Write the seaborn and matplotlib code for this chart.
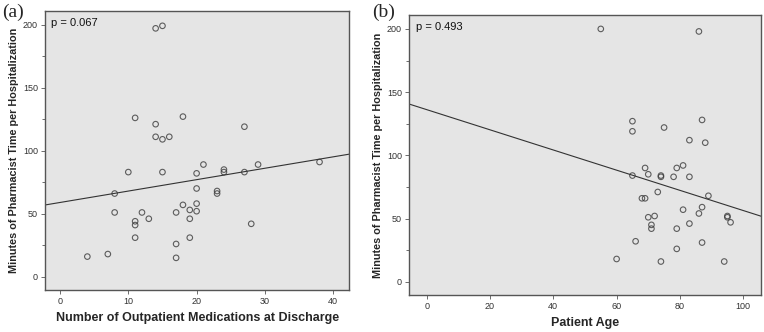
import numpy as np
import pandas as pd
import matplotlib
matplotlib.use("Agg")
import matplotlib.pyplot as plt
import seaborn as sns

# Panel (a): number of outpatient medications at discharge vs minutes
meds = [4, 7, 8, 8, 10, 11, 11, 11, 11, 12, 13, 14, 14, 14, 15, 15, 15, 16, 17, 17,
        17, 18, 18, 19, 19, 19, 20, 20, 20, 20, 21, 23, 23, 24, 24, 27, 27, 28, 29, 38]
minutes_a = [16, 18, 66, 51, 83, 126, 44, 41, 31, 51, 46, 197, 121, 111, 199, 109, 83, 111, 51, 26,
             15, 127, 57, 53, 46, 31, 82, 70, 58, 52, 89, 68, 66, 85, 83, 119, 83, 42, 89, 91]

# Panel (b): patient age vs minutes
age = [55, 86, 65, 65, 75, 87, 83, 88, 69, 70, 65, 74, 74, 79, 81, 78, 83, 89, 73, 68,
       69, 81, 87, 86, 95, 95, 72, 70, 96, 83, 71, 71, 79, 66, 87, 79, 60, 74, 94]
minutes_b = [200, 198, 127, 119, 122, 128, 112, 110, 90, 85, 84, 84, 83, 90, 92, 83, 83, 68, 71, 66,
             66, 57, 59, 54, 52, 51, 52, 51, 47, 46, 45, 42, 42, 32, 31, 26, 18, 16, 16]

p_labels = ["p = 0.067", "p = 0.493"]
panel_labels = ["(a)", "(b)"]
x_labels = ["Number of Outpatient Medications at Discharge", "Patient Age"]
y_label = "Minutes of Pharmacist Time per Hospitalization"
x_ticks = [[0, 10, 20, 30, 40], [0, 20, 40, 60, 80, 100]]
y_ticks = [0, 50, 100, 150, 200]

sns.set_theme(style="white")
plt.rcParams["font.family"] = ["Liberation Sans", "DejaVu Sans"]

df_a = pd.DataFrame({"x": meds, "y": minutes_a})
df_b = pd.DataFrame({"x": age, "y": minutes_b})

fig = plt.figure(figsize=(7.64, 3.32), dpi=100)
ax_a = fig.add_axes([0.0589, 0.1265, 0.3983, 0.8413])
ax_b = fig.add_axes([0.5353, 0.1114, 0.4607, 0.8434])

bg = "#E5E5E5"
edge = "#555555"
xlims = [(-2.2, 42.36), (-5.6, 105.6)]

for i, (ax, df) in enumerate([(ax_a, df_a), (ax_b, df_b)]):
    ax.set_facecolor(bg)
    ax.set_xlim(*xlims[i])
    ax.set_ylim(-10.5, 211)
    sns.regplot(data=df, x="x", y="y", ax=ax, ci=None, truncate=False,
                scatter_kws=dict(s=16, facecolors="none", edgecolors="#3a3a3a", linewidths=0.8),
                line_kws=dict(color="#333333", lw=0.8))
    ax.set_xlim(*xlims[i])
    ax.set_ylim(-10.5, 211)
    ax.set_xticks(x_ticks[i])
    ax.set_yticks(y_ticks)
    ax.set_yticks([25, 75, 125, 175], minor=True)
    ax.tick_params(axis="both", which="major", direction="out", length=3, width=0.6,
                   color=edge, labelsize=6.5, labelcolor="#333333", pad=2,
                   bottom=True, left=True)
    ax.tick_params(axis="y", which="minor", direction="out", length=2, width=0.6,
                   color=edge, left=True)
    for s in ax.spines.values():
        s.set_color(edge)
        s.set_linewidth(1.0)
    ax.set_xlabel(x_labels[i], fontsize=9, fontweight="bold", labelpad=4)
    ax.set_ylabel(y_label, fontsize=7.8, fontweight="bold", labelpad=3)
    ax.text(0.02, 0.975, p_labels[i], transform=ax.transAxes, fontsize=8,
            ha="left", va="top", color="#111111")

fig.text(0.003, 0.99, panel_labels[0], fontsize=14, family="Liberation Serif",
         ha="left", va="top")
fig.text(0.487, 0.99, panel_labels[1], fontsize=14, family="Liberation Serif",
         ha="left", va="top")

fig.savefig("out.png", dpi=100)
